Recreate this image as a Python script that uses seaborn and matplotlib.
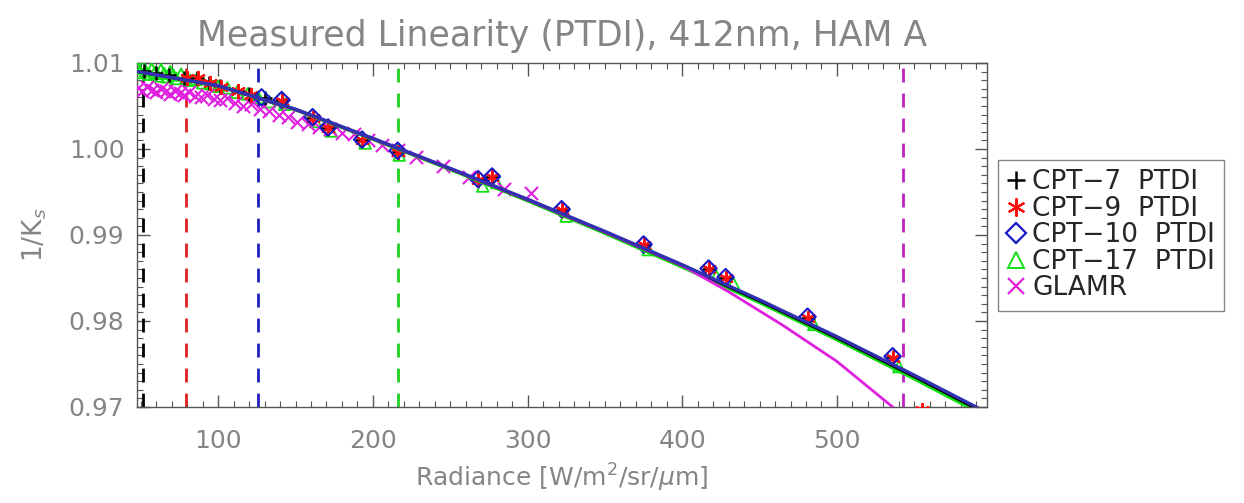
import numpy as np
import pandas as pd
import matplotlib
matplotlib.use("Agg")
import matplotlib.pyplot as plt
import seaborn as sns
from matplotlib.ticker import MultipleLocator, FormatStrFormatter
from matplotlib.lines import Line2D

# ---------------- data ----------------
cpt7_x = [52, 60, 68, 78, 86, 94, 101, 113, 120, 130,
          141, 161, 171, 193, 216, 268, 277, 322, 375, 417, 428, 481, 536]
cpt7_y = [1.0091, 1.0088, 1.0086, 1.0083, 1.0082, 1.0077, 1.0073, 1.0068, 1.0064, 1.0059,
          1.0057, 1.0036, 1.0025, 1.0011, 0.9997, 0.9965, 0.9967, 0.9929, 0.9888, 0.9861, 0.9850, 0.9804, 0.9758]

cpt9_x = [80, 87, 95, 102, 113, 121,
          141, 161, 171, 193, 216, 268, 277, 322, 375, 417, 428, 481, 536, 555]
cpt9_y = [1.0082, 1.0082, 1.0077, 1.0072, 1.0068, 1.0063,
          1.0056, 1.0036, 1.0024, 1.0010, 0.9997, 0.9964, 0.9968, 0.9929, 0.9888, 0.9860, 0.9850, 0.9803, 0.9757, 0.9697]

cpt10_x = [128, 141, 161, 171, 193, 216, 268, 277, 322, 375, 417, 428, 481, 536]
cpt10_y = [1.0060, 1.0057, 1.0037, 1.0025, 1.0011, 0.9998, 0.9965, 0.9968, 0.9930, 0.9889, 0.9861, 0.9851, 0.9805, 0.9759]

cpt17_x = [48, 49.5, 51, 53, 55, 57, 59, 61, 63, 65, 67, 69, 71, 73, 76, 79, 82, 86, 90, 95,
           100, 106, 112, 119, 126, 133,
           143, 163, 173, 195, 217, 271, 280, 325, 378, 422, 433, 485, 540]
cpt17_y = [1.0094, 1.0089, 1.0096, 1.0091, 1.0087, 1.0093, 1.0089, 1.0085, 1.0092, 1.0088,
           1.0084, 1.0090, 1.0086, 1.0082, 1.0087, 1.0082, 1.0080, 1.0081, 1.0077, 1.0076,
           1.0073, 1.0071, 1.0066, 1.0064, 1.0060, 1.0055,
           1.0052, 1.0032, 1.0021, 1.0007, 0.9993, 0.9957, 0.9961, 0.9922, 0.9883, 0.9852, 0.9844, 0.9796, 0.9747]

glamr_x = [48, 51, 54, 57, 60, 63, 66, 69, 72, 75, 78, 81, 85, 89, 93, 97, 101, 106, 111, 116,
           121, 127, 133, 139, 145, 151, 158, 165, 172, 180, 188, 197, 206, 216, 228, 245, 262, 285, 302]
glamr_y = [1.0071, 1.0068, 1.0072, 1.0069, 1.0066, 1.0070, 1.0067, 1.0064, 1.0068, 1.0065,
           1.0063, 1.0066, 1.0062, 1.0060, 1.0063, 1.0058, 1.0057, 1.0059, 1.0054, 1.0050,
           1.0052, 1.0046, 1.0044, 1.0040, 1.0037, 1.0031, 1.0029, 1.0026, 1.0023, 1.0019,
           1.0017, 1.0011, 1.0005, 0.9999, 0.9991, 0.9980, 0.9968, 0.9953, 0.9949]

# fitted curves
fit_x = [48, 100, 150, 200, 250, 300, 350, 400, 450, 500, 550, 597]
fit_cpt7 = [1.0090, 1.00734, 1.00459, 1.00119, 0.99769, 0.99409, 0.99034, 0.98644, 0.98234, 0.97804, 0.97354, 0.96917]
fit_cpt10 = [1.0090, 1.00737, 1.00463, 1.00124, 0.99775, 0.99416, 0.99042, 0.98654, 0.98246, 0.97818, 0.97370, 0.96935]
fit_cpt17 = [1.0090, 1.00732, 1.00455, 1.00113, 0.99761, 0.99398, 0.99020, 0.98627, 0.98214, 0.97781, 0.97327, 0.96885]
fit_glamr_x = [48, 100, 150, 200, 250, 300, 350, 400, 430, 465, 500, 536, 545]
fit_glamr = [1.0090, 1.00734, 1.00459, 1.00119, 0.99769, 0.99409, 0.99034, 0.98644, 0.9834, 0.9795, 0.9753, 0.9700, 0.9686]

# vertical dashed markers
vline_x = [51.5, 79, 126, 216, 543]
vline_colors = ["black", "#e02020", "#2020c0", "#20d020", "#c020c0"]

series_names = ["CPT\u22127  PTDI", "CPT\u22129  PTDI", "CPT\u221210  PTDI", "CPT\u221217  PTDI", "GLAMR"]
series_colors = ["black", "#ff1010", "#1818c8", "#10e010", "#e020e0"]

# ---------------- figure ----------------
sns.set_theme(style="white")
plt.rcParams["font.family"] = ["DejaVu Sans"]
plt.rcParams["mathtext.fontset"] = "dejavusans"

fig = plt.figure(figsize=(12.44, 5.03), dpi=100)
ax = fig.add_axes([137 / 1244, 1 - 407 / 503, 850 / 1244, 344 / 503])

gray = "#858585"

# vertical dashed lines
for vx, vc in zip(vline_x, vline_colors):
    ax.axvline(vx, color=vc, lw=2.0, ls=(0, (5, 4)), zorder=1)

# scatter points
df_list = [
    (pd.DataFrame({"x": cpt17_x, "y": cpt17_y}), "^", series_colors[3], 1.3),
    (pd.DataFrame({"x": glamr_x, "y": glamr_y}), "x", series_colors[4], 1.5),
    (pd.DataFrame({"x": cpt7_x, "y": cpt7_y}), "+", series_colors[0], 1.8),
    (pd.DataFrame({"x": cpt9_x, "y": cpt9_y}), (6, 2, 0), series_colors[1], 1.6),
    (pd.DataFrame({"x": cpt10_x, "y": cpt10_y}), "D", series_colors[2], 1.5),
]
for d, mk, col, lw in df_list:
    if mk in ("^", "D"):
        sns.scatterplot(data=d, x="x", y="y", ax=ax, marker=mk, s=70,
                        facecolors="none", edgecolor=col, linewidth=lw, zorder=3)
    else:
        sns.scatterplot(data=d, x="x", y="y", ax=ax, marker=mk, s=90,
                        color=col, linewidth=lw, zorder=3)

# fit lines
fit_df = pd.DataFrame({"x": fit_x, "c7": fit_cpt7, "c10": fit_cpt10, "c17": fit_cpt17})
gl_df = pd.DataFrame({"x": fit_glamr_x, "y": fit_glamr})
sns.lineplot(data=fit_df, x="x", y="c17", ax=ax, color=series_colors[3], lw=2.4, zorder=4)
sns.lineplot(data=fit_df, x="x", y="c7", ax=ax, color="black", lw=2.2, zorder=4)
sns.lineplot(data=gl_df, x="x", y="y", ax=ax, color=series_colors[4], lw=2.0, zorder=4)
sns.lineplot(data=fit_df, x="x", y="c10", ax=ax, color="#3030b0", lw=2.4, zorder=5)

ax.set_xlim(47.5, 597)
ax.set_ylim(0.97, 1.01)

ax.xaxis.set_major_locator(MultipleLocator(100))
ax.xaxis.set_minor_locator(MultipleLocator(10))
ax.yaxis.set_major_locator(MultipleLocator(0.01))
ax.yaxis.set_minor_locator(MultipleLocator(0.001))
ax.yaxis.set_major_formatter(FormatStrFormatter("%.2f"))

ax.tick_params(axis="both", which="both", direction="in", top=True, right=True,
               bottom=True, left=True, colors="#555555", labelcolor=gray)
ax.tick_params(axis="both", which="major", length=9, width=1.0, labelsize=18)
ax.tick_params(axis="x", which="major", pad=16)
ax.tick_params(axis="y", which="major", pad=9)
ax.tick_params(axis="both", which="minor", length=4.5, width=0.8)
for sp in ax.spines.values():
    sp.set_color("#555555")
    sp.set_linewidth(1.0)

ax.set_title("Measured Linearity (PTDI), 412nm, HAM A", fontsize=25, color=gray, pad=12)
ax.set_xlabel("Radiance [W/m$^2$/sr/$\\mu$m]", fontsize=18, color=gray, labelpad=6)
ax.set_ylabel("1/K$_s$", fontsize=19, color=gray, labelpad=14)

# legend
handles = [
    Line2D([], [], ls="none", marker="+", color=series_colors[0], markersize=13, markeredgewidth=1.8),
    Line2D([], [], ls="none", marker=(6, 2, 0), color=series_colors[1], markersize=13, markeredgewidth=1.6),
    Line2D([], [], ls="none", marker="D", markerfacecolor="none", markeredgecolor=series_colors[2], markersize=10, markeredgewidth=1.6),
    Line2D([], [], ls="none", marker="^", markerfacecolor="none", markeredgecolor=series_colors[3], markersize=12, markeredgewidth=1.4),
    Line2D([], [], ls="none", marker="x", color=series_colors[4], markersize=12, markeredgewidth=1.6),
]
leg = fig.legend(handles, series_names, loc="upper left", bbox_to_anchor=(998 / 1244, 1 - 160 / 503),
                 bbox_transform=fig.transFigure, fontsize=19, frameon=True, fancybox=False,
                 handlelength=0.7, handletextpad=0.25, labelspacing=0.02, borderpad=0.35,
                 borderaxespad=0)
leg.get_frame().set_edgecolor("#666666")
leg.get_frame().set_linewidth(1.0)

fig.savefig("out.png", dpi=100)
